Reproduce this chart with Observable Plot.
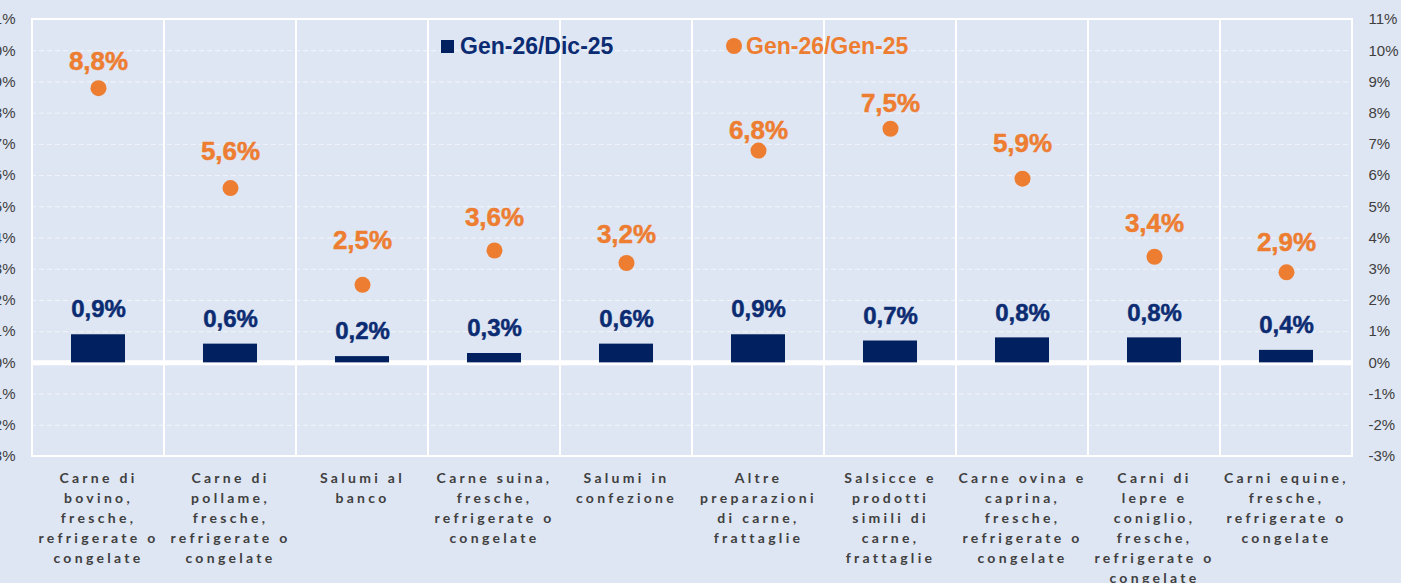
<!DOCTYPE html>
<html>
<head>
<meta charset="utf-8">
<script src="https://cdn.jsdelivr.net/npm/d3@7"></script>
<script src="https://cdn.jsdelivr.net/npm/@observablehq/plot@0.6"></script>
<style>
  html, body { margin: 0; padding: 0; background: #DFE6F3; overflow: hidden; }
  #wrap { position: relative; width: 1401px; height: 583px; overflow: hidden; }
  #wrap svg [aria-label="x-axis tick label"] text { letter-spacing: 3.3px; font-weight: 700; }
  #wrap svg [aria-label="text"] text { font-weight: 700; }
  .legend { position: absolute; top: 34px; height: 24px; display: flex; align-items: center;
            font-family: "Liberation Sans", Arial, sans-serif; font-weight: bold; font-size: 23px; }
  .sw-sq { width: 13px; height: 13px; background: #002060; margin-right: 6px; }
  .sw-dot { width: 16px; height: 16px; border-radius: 50%; background: #ED7D31; margin-right: 4px; }
</style>
</head>
<body>
<div id="wrap"></div>
<script>
const categories = [
  "Carne di\nbovino,\nfresche,\nrefrigerate o\ncongelate",
  "Carne di\npollame,\nfresche,\nrefrigerate o\ncongelate",
  "Salumi al\nbanco",
  "Carne suina,\nfresche,\nrefrigerate o\ncongelate",
  "Salumi in\nconfezione",
  "Altre\npreparazioni\ndi carne,\nfrattaglie",
  "Salsicce e\nprodotti\nsimili di\ncarne,\nfrattaglie",
  "Carne ovina e\ncaprina,\nfresche,\nrefrigerate o\ncongelate",
  "Carni di\nlepre e\nconiglio,\nfresche,\nrefrigerate o\ncongelate",
  "Carni equine,\nfresche,\nrefrigerate o\ncongelate"
];
const seriesNames = ["Gen-26/Dic-25", "Gen-26/Gen-25"];
const monthly = [0.9, 0.6, 0.2, 0.3, 0.6, 0.9, 0.7, 0.8, 0.8, 0.4];
const yearly  = [8.8, 5.6, 2.5, 3.6, 3.2, 6.8, 7.5, 5.9, 3.4, 2.9];
const yTicks = [-3, -2, -1, 0, 1, 2, 3, 4, 5, 6, 7, 8, 9, 10, 11];

// label placement (pixel nudges of the orange value labels above their dots, as placed in the original)
const yearlyLabelNudge = [-26, -36, -44, -33, -28, -20, -25, -35, -33, -30];

const NAVY = "#002060", NAVY_TXT = "#0B2B72", ORANGE = "#ED7D31", GREY = "#404040", BG = "#DFE6F3";
const fmt = v => v.toFixed(1).replace(".", ",") + "%";

const bars = categories.map((c, i) => ({cat: c, v: monthly[i]}));
const dots = categories.map((c, i) => ({cat: c, v: yearly[i]}));

const chart = Plot.plot({
  width: 1431,
  height: 583,
  marginLeft: 61,
  marginRight: 48,
  marginTop: 19,
  marginBottom: 127,
  style: `background:${BG}; max-width:none; margin-left:-30px; overflow:visible; font-family:'Liberation Sans', Arial, sans-serif;`,
  x: {type: "band", domain: categories, padding: 0, label: null},
  y: {domain: [-3, 11], label: null},
  marks: [
    Plot.ruleY(yTicks, {stroke: "white", strokeOpacity: 0.6, strokeDasharray: "5,3", strokeWidth: 1}),
    Plot.cell(categories, {x: d => d, fill: "none", stroke: "white", strokeWidth: 2, inset: 0}),
    Plot.ruleY([0], {stroke: "white", strokeWidth: 5}),
    Plot.barY(bars, {x: "cat", y: "v", fill: NAVY, insetLeft: 39, insetRight: 39}),
    Plot.dot(dots, {x: "cat", y: "v", r: 8, fill: ORANGE, stroke: "none"}),
    Plot.text(bars, {x: "cat", y: "v", text: d => fmt(d.v), dy: -25, fill: NAVY_TXT,
      stroke: NAVY_TXT, strokeWidth: 0.5, fontSize: 24, fontWeight: "bold"}),
    ...dots.map((d, i) => Plot.text([d], {x: "cat", y: "v", text: e => fmt(e.v), dy: yearlyLabelNudge[i],
      fill: ORANGE, stroke: ORANGE, strokeWidth: 0.5, fontSize: 26, fontWeight: "bold"})),
    Plot.axisY({anchor: "left", ticks: yTicks, tickFormat: d => d + "%", tickSize: 0, tickPadding: 16,
      fontSize: 15, fill: GREY, label: null}),
    Plot.axisY({anchor: "right", ticks: yTicks, tickFormat: d => d + "%", tickSize: 0, tickPadding: 15,
      fontSize: 15, fill: GREY, label: null}),
    Plot.axisX({tickSize: 0, tickPadding: 12, fontSize: 14, fontWeight: "bold", fill: GREY,
      stroke: GREY, strokeWidth: 0.35, lineHeight: 1.43, fontFamily: "Lato, sans-serif", label: null})
  ]
});

const wrap = document.getElementById("wrap");
wrap.appendChild(chart);

const leg1 = document.createElement("div");
leg1.className = "legend";
leg1.style.left = "441px";
leg1.style.color = NAVY_TXT;
leg1.innerHTML = `<span class="sw-sq"></span><span>${seriesNames[0]}</span>`;
wrap.appendChild(leg1);

const leg2 = document.createElement("div");
leg2.className = "legend";
leg2.style.left = "726px";
leg2.style.color = ORANGE;
leg2.innerHTML = `<span class="sw-dot"></span><span>${seriesNames[1]}</span>`;
wrap.appendChild(leg2);
</script>
</body>
</html>
